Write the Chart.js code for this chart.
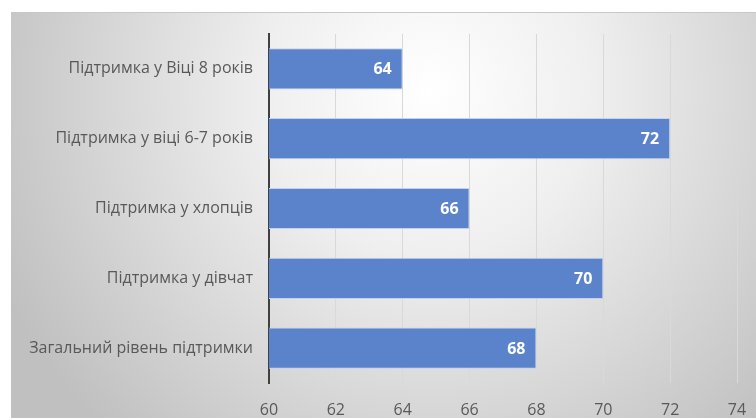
<!DOCTYPE html>
<html>
<head>
<meta charset="utf-8">
<script src="https://cdn.jsdelivr.net/npm/chart.js@4/dist/chart.umd.min.js"></script>
<style>
  html, body { margin: 0; padding: 0; background: #fff; }
  #wrap { width: 756px; height: 418px; position: relative; }
</style>
</head>
<body>
<div id="wrap"><canvas id="support_chart" width="756" height="418"></canvas></div>
<script>
// categories top to bottom and their values
const categories = [
    'Підтримка у Віці 8 років',
    'Підтримка у віці 6-7 років',
    'Підтримка у хлопців',
    'Підтримка у дівчат',
    'Загальний рівень підтримки'
];
const support_values = [64, 72, 66, 70, 68];
const x_ticks = [60, 62, 64, 66, 68, 70, 72, 74];

const text_font = "'Open Sans', 'Liberation Sans', sans-serif";

// grey radial backdrop, white strip on top
const backdrop = {
    id: 'backdrop',
    beforeDraw: (chart) => {
        const ctx = chart.ctx;
        ctx.save();
        ctx.fillStyle = '#ffffff';
        ctx.fillRect(0, 0, chart.width, chart.height);
        const g = ctx.createRadialGradient(430, 90, 0, 430, 90, 470);
        g.addColorStop(0, '#ffffff');
        g.addColorStop(0.35, '#efefef');
        g.addColorStop(1, '#c0c0c0');
        ctx.fillStyle = g;
        ctx.fillRect(11, 13, chart.width - 11, chart.height - 13);
        ctx.fillStyle = '#c8c8c8';
        ctx.fillRect(11, 12, chart.width - 11, 1);
        ctx.restore();
    }
};

// white value labels at the inner end of each bar
const valueLabels = {
    id: 'valueLabels',
    afterDatasetsDraw: (chart) => {
        const ctx = chart.ctx;
        const meta = chart.getDatasetMeta(0);
        ctx.save();
        ctx.fillStyle = '#ffffff';
        ctx.font = "bold 16px " + text_font;
        ctx.textAlign = 'right';
        ctx.textBaseline = 'middle';
        meta.data.forEach((bar, i) => {
            ctx.fillText(String(chart.data.datasets[0].data[i]), bar.x - 11, bar.y + 1);
        });
        ctx.restore();
    }
};

new Chart("support_chart", {
    type: 'bar',
    data: {
        labels: categories,
        datasets: [{
            data: support_values,
            backgroundColor: '#5b83cb',
            borderColor: '#c3d2ec',
            borderWidth: 1,
            borderSkipped: 'start',
            categoryPercentage: 1.0,
            barPercentage: 0.59
        }]
    },
    options: {
        indexAxis: 'y',
        responsive: false,
        animation: false,
        devicePixelRatio: 1,
        layout: {padding: {top: 34, right: 19, left: 0, bottom: 0}},
        plugins: {
            legend: {display: false},
            tooltip: {enabled: false}
        },
        scales: {
            x: {
                min: 60,
                max: 74,
                afterBuildTicks: (scale) => {
                    scale.ticks = x_ticks.map(v => ({value: v}));
                },
                grid: {color: '#d9d9d9', lineWidth: 1, drawTicks: false},
                border: {display: false},
                ticks: {
                    color: '#595959',
                    font: {size: 16, family: text_font},
                    padding: 18,
                    maxRotation: 0
                },
                afterFit: (scale) => {
                    scale.height = 35;
                    scale.paddingLeft = 0;
                    scale.paddingRight = 0;
                }
            },
            y: {
                grid: {display: false, drawTicks: false},
                border: {display: true, color: '#404040', width: 2},
                ticks: {
                    color: '#595959',
                    font: {size: 16, family: text_font},
                    padding: 16
                },
                afterFit: (scale) => { scale.width = 269; }
            }
        }
    },
    plugins: [backdrop, valueLabels]
});
</script>
</body>
</html>
